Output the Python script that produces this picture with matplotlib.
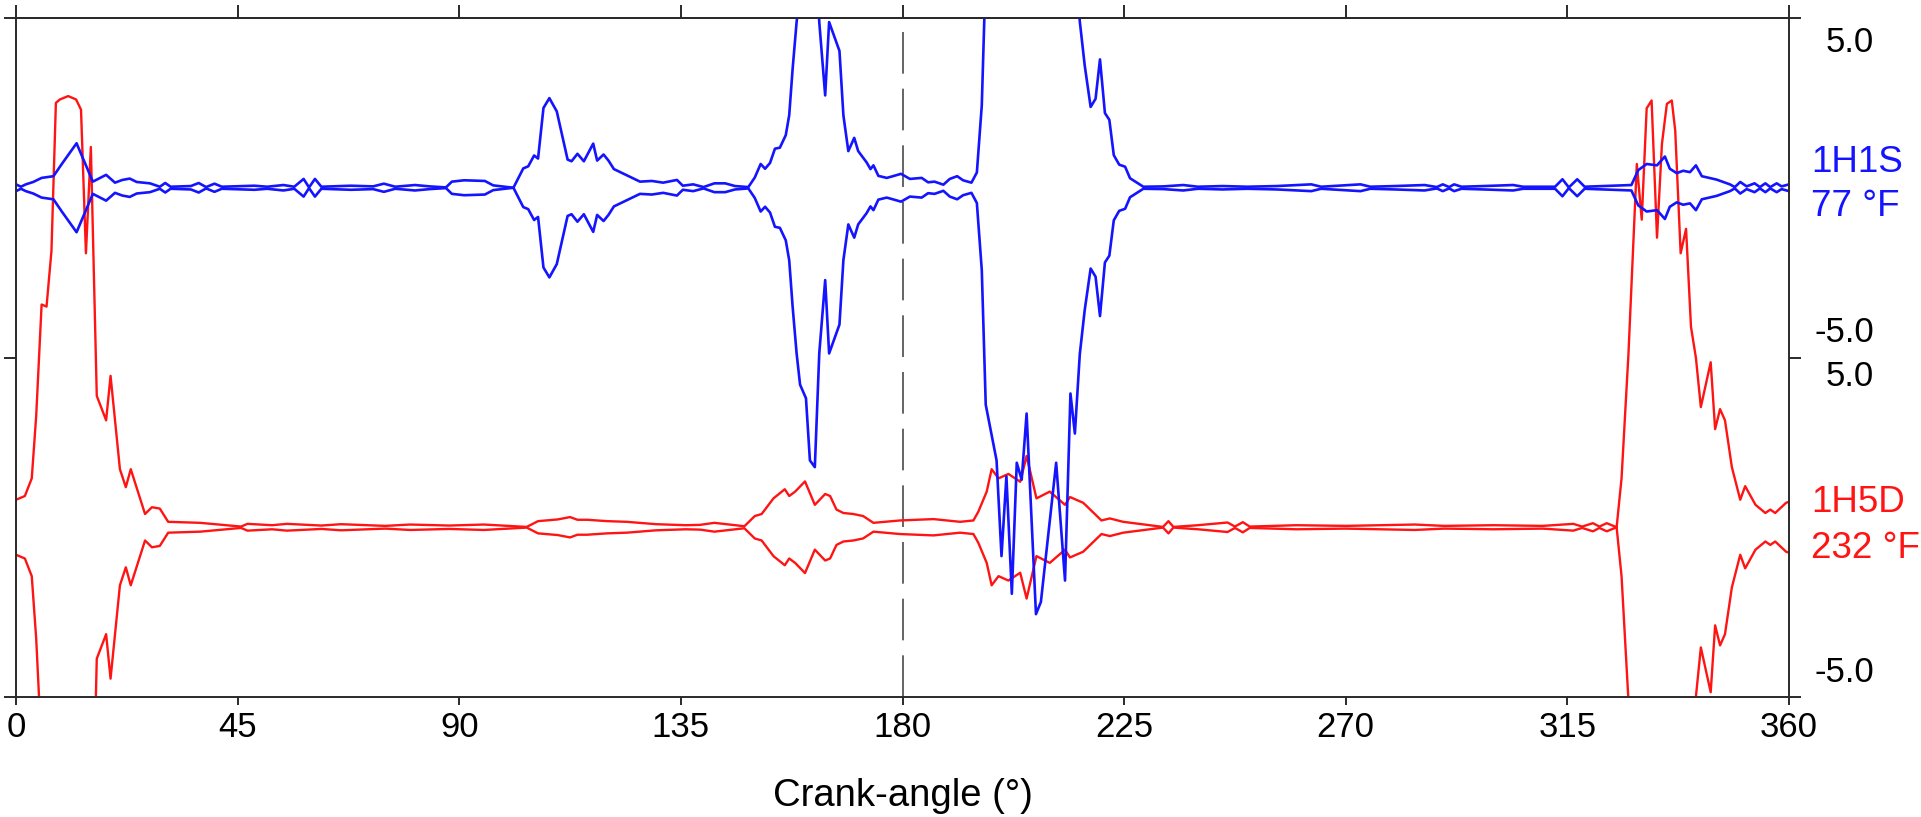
import numpy as np
import matplotlib
matplotlib.use('Agg')
import matplotlib.pyplot as plt

plt.rcParams['font.family'] = ['Liberation Sans', 'DejaVu Sans']

# crank angle (deg) and half-amplitude of the envelope, 1H1S channel
blue_deg = [0, 1.0, 2.0, 3.5, 5.2, 7.6, 9.3, 12.3, 15.6, 18.3, 20.1, 21.6, 23.1, 24.5,
            27.2, 29.2, 30.3, 31.4, 35.5, 37.1, 38.6, 40.3, 41.8, 46.0, 48.4, 51.0,
            54.3, 56.5, 58.4, 59.5, 60.7, 62.0, 68.0, 72.5, 74.7, 77.0, 81.0, 84.0,
            87.3, 88.5, 91.0, 95.2, 96.9, 101.0, 103.0, 104.0, 105.2, 106.0, 107.1,
            108.3, 109.8, 112.0, 112.8, 114.0, 115.3, 117.2, 118.0, 119.3, 120.3,
            121.4, 124.0, 126.7, 129.1, 131.4, 134.2, 135.4, 137.5, 139.6, 141.8,
            144.0, 146.0, 148.7, 150.0, 151.2, 152.1, 153.1, 154.1, 155.1, 156.3,
            157.0, 157.7, 158.5, 159.2, 160.4, 161.2, 162.2, 163.1, 164.3, 165.1,
            167.2, 168.0, 169.0, 170.2, 171.0, 172.7, 173.5, 174.1, 175.1, 176.8,
            177.8, 179.7, 181.5, 183.9, 185.2, 186.5, 188.3, 189.6, 191.1, 192.3,
            194.0, 195.1, 196.1, 196.9, 199.1, 200.1, 201.1, 202.2, 203.2, 204.2,
            205.2, 207.1, 208.1, 211.2, 213.0, 214.1, 215.0, 216.0, 217.0, 218.2,
            219.2, 220.1, 221.1, 222.0, 222.9, 224.0, 225.2, 226.2, 228.9, 233.0,
            237.0, 240.0, 245.0, 250.0, 256.0, 263.0, 265.0, 273.0, 275.0, 280.0,
            286.0, 288.5, 289.7, 291.0, 292.0, 293.5, 298.0, 304.0, 306.0, 312.5,
            314.0, 315.3, 317.0, 318.5, 328.0, 329.4, 331.1, 333.2, 334.8, 335.8,
            337.2, 338.5, 339.9, 341.1, 342.3, 345.3, 348.0, 349.0, 350.1, 351.4,
            353.0, 354.1, 355.2, 356.2, 357.5, 358.5, 360.0]
blue_amp = [0.10, 0.03, 0.10, 0.17, 0.29, 0.34, 0.70, 1.31, 0.18, 0.38, 0.15, 0.23, 0.27, 0.17,
            0.13, 0.03, 0.14, 0.03, 0.05, 0.14, 0.02, 0.12, 0.03, 0.05, 0.06, 0.03,
            0.08, 0.03, 0.26, 0.01, 0.26, 0.03, 0.06, 0.04, 0.12, 0.03, 0.08, 0.04,
            0.01, 0.18, 0.22, 0.20, 0.07, 0.0, 0.57, 0.63, 0.95, 0.86, 2.35,
            2.64, 2.25, 0.83, 0.78, 1.00, 0.78, 1.30, 0.80, 0.98, 0.80,
            0.55, 0.37, 0.18, 0.20, 0.15, 0.23, 0.06, 0.10, 0.02, 0.13,
            0.13, 0.05, 0.02, 0.30, 0.70, 0.56, 0.73, 1.15, 1.18, 1.55,
            2.14, 3.52, 4.88, 5.80, 6.20, 8.03, 8.23, 4.88, 2.72, 4.88,
            4.03, 2.13, 1.08, 1.47, 1.08, 0.75, 0.55, 0.66, 0.35, 0.29,
            0.33, 0.41, 0.26, 0.29, 0.16, 0.18, 0.09, 0.26, 0.34, 0.22,
            0.15, 0.45, 2.43, 6.39, 8.03, 10.85, 8.50, 11.96, 8.10, 8.60,
            6.65, 12.56, 12.20, 8.10, 11.57, 6.06, 7.24, 4.90, 3.60, 2.38,
            2.62, 3.78, 2.20, 2.00, 0.96, 0.68, 0.62, 0.28, 0.03, 0.04,
            0.08, 0.03, 0.05, 0.03, 0.05, 0.10, 0.03, 0.10, 0.03, 0.05,
            0.08, 0.02, 0.10, 0.02, 0.10, 0.03, 0.05, 0.08, 0.03, 0.03,
            0.25, 0.01, 0.25, 0.03, 0.08, 0.52, 0.70, 0.66, 0.92, 0.56,
            0.43, 0.50, 0.46, 0.66, 0.34, 0.24, 0.10, 0.02, 0.17, 0.04,
            0.13, 0.02, 0.13, 0.02, 0.13, 0.04, 0.10]

# crank angle (deg) and half-amplitude of the envelope, 1H5D channel
red_deg = [0, 1.8, 3.2, 4.1, 5.2, 6.2, 7.2, 8.1, 8.9, 10.6, 12.2, 13.2, 14.2, 15.2,
           16.4, 18.3, 19.2, 21.1, 22.3, 23.3, 26.2, 27.6, 29.2, 30.9, 37.4, 45.7,
           47.0, 52.0, 55.0, 62.0, 66.0, 75.0, 80.0, 88.0, 95.0, 103.7, 106.0,
           110.0, 112.5, 114.0, 116.0, 118.0, 120.0, 124.0, 130.0, 136.0, 138.9,
           141.8, 147.9, 150.0, 151.4, 153.8, 156.1, 157.0, 158.2, 160.2, 162.2,
           164.3, 165.3, 166.6, 168.0, 170.0, 172.0, 174.1, 179.5, 186.3, 191.7,
           194.4, 195.4, 197.1, 198.1, 199.5, 201.5, 203.9, 205.2, 207.2, 209.9,
           213.0, 214.0, 216.7, 220.4, 222.1, 224.8, 232.9, 234.0, 235.0, 240.0,
           246.0, 247.5, 249.1, 250.5, 260.0, 270.0, 284.0, 290.0, 300.0, 310.0,
           316.2, 318.0, 320.2, 321.5, 323.0, 325.0, 326.0, 327.4, 328.4, 329.1,
           330.1, 331.1, 332.1, 333.2, 334.2, 335.2, 336.2, 336.9, 338.0, 339.1,
           340.1, 341.1, 342.1, 344.1, 345.0, 346.0, 347.0, 348.4, 350.1, 351.1,
           353.2, 355.2, 356.2, 357.2, 359.4, 360.0]
red_amp = [0.81, 0.92, 1.44, 3.28, 6.56, 6.50, 8.14, 12.5, 12.6, 12.7, 12.6, 12.3, 8.07, 11.2,
           3.87, 3.15, 4.46, 1.71, 1.18, 1.71, 0.39, 0.59, 0.55, 0.16, 0.13, 0.02,
           0.10, 0.06, 0.10, 0.05, 0.09, 0.04, 0.08, 0.05, 0.08, 0.01, 0.18,
           0.23, 0.30, 0.22, 0.22, 0.20, 0.18, 0.16, 0.09, 0.06, 0.07,
           0.13, 0.03, 0.33, 0.39, 0.85, 1.12, 0.92, 1.05, 1.35, 0.66,
           0.98, 0.92, 0.52, 0.42, 0.39, 0.33, 0.13, 0.20, 0.24, 0.16,
           0.20, 0.46, 1.05, 1.71, 1.44, 1.57, 1.34, 2.10, 0.85, 1.05,
           0.66, 0.89, 0.72, 0.20, 0.26, 0.16, 0.01, 0.18, 0.01, 0.06,
           0.14, 0.02, 0.15, 0.02, 0.06, 0.04, 0.08, 0.04, 0.06, 0.04,
           0.10, 0.02, 0.12, 0.02, 0.12, 0.0, 1.44, 5.10, 8.40, 10.7,
           9.06, 12.34, 12.57, 8.53, 11.29, 12.47, 12.57, 11.68, 8.07, 8.79,
           5.90, 4.99, 3.54, 4.86, 2.89, 3.48, 3.15, 1.77, 0.81, 1.21,
           0.66, 0.42, 0.52, 0.42, 0.72, 0.75]

blue_name, blue_temp = '1H1S', '77 °F'
red_name, red_temp = '1H5D', '232 °F'
x_ticks = [0, 45, 90, 135, 180, 225, 270, 315, 360]

BLUE = '#1414ff'
RED = '#ff1414'
AX_COL = '#2a2a2a'
FS = 25

fig = plt.figure(figsize=(19.21, 8.17), dpi=100)
ax = fig.add_axes([16 / 1921, 1 - 697 / 817, 1773 / 1921, 679 / 817])

# each channel sits in its own band of +-5 units
blue_off, red_off = 5, -5
bd, ba = np.array(blue_deg), np.array(blue_amp)
rd, ra = np.array(red_deg), np.array(red_amp)

ax.plot(rd, red_off + ra, color=RED, lw=1.7)
ax.plot(rd, red_off - ra, color=RED, lw=1.7)
ax.plot(bd, blue_off + ba, color=BLUE, lw=1.9)
ax.plot(bd, blue_off - ba, color=BLUE, lw=1.9)

ax.axvline(180, color='#4a4a4a', lw=1.2, dashes=(25, 9), zorder=0.5)

ax.set_xlim(0, 360)
ax.set_ylim(-10, 10)
ax.set_xticks(x_ticks)
ax.set_xticklabels([str(t) for t in x_ticks], fontsize=FS)
ax.set_yticks([-10, 0, 10])
ax.set_yticklabels([])
ax.tick_params(axis='x', direction='out', length=6, width=1.4, color=AX_COL, pad=4)
ax.tick_params(axis='y', direction='out', length=8.5, width=1.4, color=AX_COL,
               left=True, right=True)
for s in ax.spines.values():
    s.set_linewidth(1.4)
    s.set_color(AX_COL)

top = ax.secondary_xaxis('top')
top.set_xticks(x_ticks)
top.tick_params(axis='x', direction='out', length=9.5, width=1.4, color=AX_COL,
                labeltop=False)
top.spines['top'].set_linewidth(1.4)
top.spines['top'].set_color(AX_COL)

ax.set_xlabel('Crank-angle (°)', fontsize=27.5)
ax.xaxis.set_label_coords(0.5, -(796 - 697) / 679)
ax.xaxis.label.set_va('center')

# band scale labels and channel names on the right
def px(x, y):
    return x / 1921, 1 - y / 817

for y, s in [(42, '5.0'), (333, '-5.0'), (377, '5.0'), (672, '-5.0')]:
    fig.text(*px(1874, y), s, fontsize=FS, ha='right', va='center', color='black')

fig.text(*px(1811, 162), blue_name, fontsize=26.5, ha='left', va='center', color=BLUE)
fig.text(*px(1811, 207), blue_temp, fontsize=26.5, ha='left', va='center', color=BLUE)
fig.text(*px(1811, 502), red_name, fontsize=26.5, ha='left', va='center', color=RED)
fig.text(*px(1811, 548), red_temp, fontsize=26.5, ha='left', va='center', color=RED)

fig.savefig('out.png', dpi=100)
